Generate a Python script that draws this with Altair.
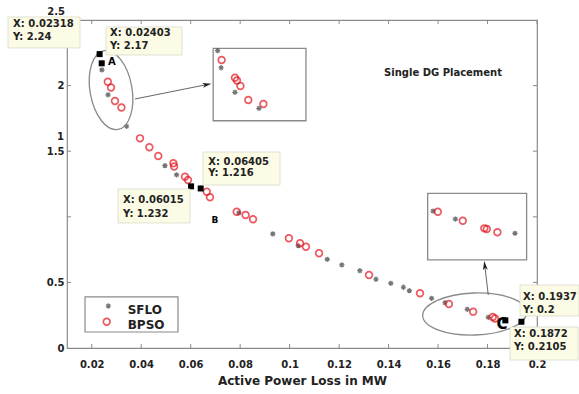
import altair as alt
import pandas as pd

FONT = "DejaVu Sans"

# ---- main series -------------------------------------------------------
SFLO_X = [0.02318, 0.02403, 0.0241, 0.0266, 0.0341, 0.0496, 0.0543, 0.06015, 0.06405,
          0.0795, 0.0932, 0.1035, 0.1152, 0.1211, 0.1284, 0.1349, 0.1409, 0.1460,
          0.1484, 0.1574, 0.1628, 0.1718, 0.1803, 0.1872, 0.1937]
SFLO_Y = [2.24, 2.17, 2.12, 1.93, 1.69, 1.39, 1.32, 1.232, 1.216,
          1.03, 0.87, 0.78, 0.676, 0.633, 0.589, 0.524, 0.493, 0.463,
          0.437, 0.379, 0.345, 0.295, 0.234, 0.2105, 0.2]

BPSO_X = [0.0265, 0.0278, 0.0294, 0.0320, 0.0395, 0.0433, 0.0469, 0.0530, 0.0533,
          0.0577, 0.0589, 0.0665, 0.0678, 0.0786, 0.0822, 0.0852, 0.0997, 0.1042,
          0.1066, 0.1119, 0.1321, 0.1527, 0.1644, 0.1742, 0.1821, 0.1830]
BPSO_Y = [2.03, 1.985, 1.883, 1.833, 1.598, 1.530, 1.463, 1.408, 1.383,
          1.306, 1.280, 1.191, 1.149, 1.039, 1.014, 0.981, 0.836, 0.798,
          0.772, 0.722, 0.556, 0.417, 0.335, 0.277, 0.236, 0.225]

# ---- data tips ---------------------------------------------------------
TIP_X = [0.02318, 0.02403, 0.06015, 0.06405, 0.1872, 0.1937]
TIP_Y = [2.24, 2.17, 1.232, 1.216, 0.2105, 0.2]
TIP_LINE1 = ["X: 0.02318", "X: 0.02403", "X: 0.06015", "X: 0.06405", "X: 0.1872", "X: 0.1937"]
TIP_LINE2 = ["Y: 2.24", "Y: 2.17", "Y: 1.232", "Y: 1.216", "Y: 0.2105", "Y: 0.2"]
BOX_X1 = [-0.01385, 0.02577, 0.03062, 0.06498, 0.1891, 0.19314]
BOX_X2 = [0.01526, 0.05649, 0.05972, 0.09611, 0.2166, 0.21698]
BOX_Y1 = [2.523, 2.447, 1.212, 1.494, 0.160, 0.480]
BOX_Y2 = [2.287, 2.233, 0.953, 1.242, -0.0915, 0.244]
TXT_X = [-0.01183, 0.02738, 0.03264, 0.0671, 0.1907, 0.19435]
TXT_Y1 = [2.470, 2.401, 1.128, 1.420, 0.107, 0.389]
TXT_Y2 = [2.370, 2.302, 1.021, 1.332, 0.0076, 0.290]

# ---- zoom insets (magnified copies) -----------------------------------
INSET_BOX_X1 = [0.0691, 0.1558]
INSET_BOX_X2 = [0.1066, 0.1958]
INSET_BOX_Y1 = [2.284, 1.179]
INSET_BOX_Y2 = [1.732, 0.671]
INSET_SFLO_X = [0.0709, 0.0723, 0.0779, 0.0876, 0.1580, 0.1670, 0.1911]
INSET_SFLO_Y = [2.266, 2.136, 1.949, 1.827, 1.044, 0.983, 0.874]
INSET_BPSO_X = [0.0725, 0.0779, 0.0787, 0.0801, 0.0833, 0.0894, 0.1599, 0.1700, 0.1787, 0.1797, 0.1840]
INSET_BPSO_Y = [2.195, 2.060, 2.039, 1.997, 1.890, 1.860, 1.039, 0.970, 0.912, 0.907, 0.882]

ELL_X = [0.0278, 0.1748]
ELL_Y = [1.966, 0.259]
ELL_SHAPE = ["M0,-1A0.525,1 0 1,1 0,1A0.525,1 0 1,1 0,-1Z",
             "M-1,0A1,0.404 0 1,1 1,0A1,0.404 0 1,1 -1,0Z"]
ELL_SIZE = [6400, 10816]
ELL_ANGLE = [350, 358]

ARROW_X1 = [0.0375, 0.1803]
ARROW_Y1 = [1.898, 0.404]
ARROW_X2 = [0.0666, 0.1789]
ARROW_Y2 = [2.008, 0.629]
ARROW_ANGLE = [349, 263]

LABELS = ["A", "B", "C"]
LABEL_X = [0.02658, 0.0698, 0.1859]
LABEL_Y = [2.178, 0.976, 0.183]
LABEL_SIZE = [10, 9, 15]
LABEL_ALIGN = ["left", "center", "center"]

XTICKS = [0.02, 0.04, 0.06, 0.08, 0.1, 0.12, 0.14, 0.16, 0.18, 0.2]
YTICKS = [0, 0.5, 1, 1.5, 2, 2.5]

W, H = 470, 328
XS = alt.Scale(domain=[0.01, 0.2], nice=False, zero=False)
YS = alt.Scale(domain=[0, 2.5], nice=False, zero=False)

XAX = alt.Axis(
    values=XTICKS, format="~g", labelFont=FONT, labelFontWeight="bold",
    labelFontSize=10, labelPadding=11, labelColor="#222", labelFlush=False,
    ticks=False, domain=False, grid=False,
    title="Active Power Loss in MW", titleFont=FONT, titleFontSize=12,
    titleFontWeight="bold", titleColor="#222", titlePadding=6)
YAX = alt.Axis(
    values=YTICKS, format="~g",
    labelExpr="datum.value == 1 || datum.value == 2.5 ? '' : datum.label",
    labelFont=FONT, labelFontWeight="bold", labelFontSize=10,
    labelPadding=3, labelColor="#222", labelFlush=False,
    ticks=False, domain=False, grid=False, title=None)


def X(f="x"):
    return alt.X(f"{f}:Q", scale=XS, axis=XAX)


def Y(f="y"):
    return alt.Y(f"{f}:Q", scale=YS, axis=YAX)


ASTER = "M-1,0L1,0M0,-1L0,1M-0.7,-0.7L0.7,0.7M-0.7,0.7L0.7,-0.7"
RED = "#E3141E"
GREY = "#3a3a3a"

sflo = pd.DataFrame({"x": SFLO_X, "y": SFLO_Y})
bpso = pd.DataFrame({"x": BPSO_X, "y": BPSO_Y})

sflo_layer = alt.Chart(sflo).mark_point(shape=ASTER, size=28, filled=False,
                                         stroke=GREY, strokeWidth=1.2).encode(x=X(), y=Y())
bpso_layer = alt.Chart(bpso).mark_point(shape="circle", size=45, filled=False,
                                        stroke=RED, strokeWidth=1.7).encode(x=X(), y=Y())

ell = pd.DataFrame({"x": ELL_X, "y": ELL_Y, "shape": ELL_SHAPE, "size": ELL_SIZE, "angle": ELL_ANGLE})
ell_layer = alt.Chart(ell).mark_point(filled=False, stroke="#8a8a8a", strokeWidth=1.3, opacity=1).encode(
    x=X(), y=Y(), shape=alt.Shape("shape:N", scale=None), size=alt.Size("size:Q", scale=None),
    angle=alt.Angle("angle:Q", scale=None))

arr = pd.DataFrame({"x": ARROW_X1, "y": ARROW_Y1, "x2": ARROW_X2, "y2": ARROW_Y2, "angle": ARROW_ANGLE})
arrow_lines = alt.Chart(arr).mark_rule(color="#666", strokeWidth=1).encode(
    x=X(), y=Y(), x2="x2:Q", y2="y2:Q")
arrow_heads = alt.Chart(arr).mark_point(shape="M1,0L-1,-0.55L-0.5,0L-1,0.55Z", size=81,
                                        filled=True, color="#222", opacity=1).encode(
    x=X("x2"), y=Y("y2"), angle=alt.Angle("angle:Q", scale=None))

inset_box = pd.DataFrame({"x": INSET_BOX_X1, "x2": INSET_BOX_X2, "y": INSET_BOX_Y1, "y2": INSET_BOX_Y2})
inset_rect = alt.Chart(inset_box).mark_rect(fill="white", stroke="#8a8a8a", strokeWidth=1.3).encode(
    x=X(), x2="x2:Q", y=Y(), y2="y2:Q")
inset_s = alt.Chart(pd.DataFrame({"x": INSET_SFLO_X, "y": INSET_SFLO_Y})).mark_point(
    shape=ASTER, size=28, filled=False, stroke=GREY, strokeWidth=1.2).encode(x=X(), y=Y())
inset_b = alt.Chart(pd.DataFrame({"x": INSET_BPSO_X, "y": INSET_BPSO_Y})).mark_point(
    shape="circle", size=45, filled=False, stroke=RED, strokeWidth=1.7).encode(x=X(), y=Y())

tips = pd.DataFrame({"x": TIP_X, "y": TIP_Y})
tip_sq = alt.Chart(tips).mark_point(shape="square", size=36, filled=True, color="black",
                                    opacity=1).encode(x=X(), y=Y())

lab = pd.DataFrame({"x": LABEL_X, "y": LABEL_Y, "t": LABELS})
lab_layers = [
    alt.Chart(lab.iloc[[i]]).mark_text(font=FONT, fontWeight="bold", fontSize=int(LABEL_SIZE[i]),
                                       align=LABEL_ALIGN[i], baseline="middle", color="black").encode(
        x=X(), y=Y(), text="t:N")
    for i in range(len(LABELS))
]

box = pd.DataFrame({"x": BOX_X1, "x2": BOX_X2, "y": BOX_Y1, "y2": BOX_Y2})
box_layer = alt.Chart(box).mark_rect(fill="#FBFBE6", stroke="#DADACB", strokeWidth=0.8).encode(
    x=X(), x2="x2:Q", y=Y(), y2="y2:Q")
txt = pd.DataFrame({"x": TXT_X + TXT_X, "y": TXT_Y1 + TXT_Y2, "t": TIP_LINE1 + TIP_LINE2})
txt_layer = alt.Chart(txt).mark_text(font=FONT, fontWeight="bold", fontSize=10, align="left",
                                     baseline="middle", color="#222").encode(x=X(), y=Y(), text="t:N")

# legend
LEG_BOX = {"x": [0.01728], "x2": [0.05487], "y": [0.389], "y2": [0.122]}
leg_rect = alt.Chart(pd.DataFrame(LEG_BOX)).mark_rect(fill="white", stroke="#8a8a8a", strokeWidth=1.2).encode(
    x=X(), x2="x2:Q", y=Y(), y2="y2:Q")
leg_s = alt.Chart(pd.DataFrame({"x": [0.0267], "y": [0.320]})).mark_point(
    shape=ASTER, size=28, filled=False, stroke=GREY, strokeWidth=1.2).encode(x=X(), y=Y())
leg_b = alt.Chart(pd.DataFrame({"x": [0.02605], "y": [0.200]})).mark_point(
    shape="circle", size=45, filled=False, stroke=RED, strokeWidth=1.7).encode(x=X(), y=Y())
leg_t = alt.Chart(pd.DataFrame({"x": [0.03454, 0.03454], "y": [0.290, 0.175], "t": ["SFLO", "BPSO"]})).mark_text(
    font=FONT, fontWeight="bold", fontSize=12, align="left", baseline="middle", color="#222").encode(
    x=X(), y=Y(), text="t:N")

title_t = alt.Chart(pd.DataFrame({"x": [0.162], "y": [2.096], "t": ["Single DG Placement"]})).mark_text(
    font=FONT, fontWeight="bold", fontSize=10, align="center", baseline="middle", color="#222").encode(
    x=X(), y=Y(), text="t:N")

extra_y = alt.Chart(pd.DataFrame({"x": [0.00879, 0.0092], "y": [1.608, 2.561], "t": ["1", "2.5"]})).mark_text(
    font=FONT, fontWeight="bold", fontSize=10, align="right", baseline="middle", color="#222").encode(
    x=X(), y=Y(), text="t:N")

# inward ticks on all four sides
xt = pd.DataFrame({"x": XTICKS})
yt = pd.DataFrame({"y": YTICKS[1:-1]})
TC = "#8a8a8a"
tick_b = alt.Chart(xt).mark_rule(color=TC).encode(x=X(), y=alt.value(H), y2=alt.value(H - 4))
tick_t = alt.Chart(xt).mark_rule(color=TC).encode(x=X(), y=alt.value(0), y2=alt.value(4))
tick_l = alt.Chart(yt).mark_rule(color=TC).encode(y=Y(), x=alt.value(0), x2=alt.value(4))
tick_r = alt.Chart(yt).mark_rule(color=TC).encode(y=Y(), x=alt.value(W), x2=alt.value(W - 4))

chart = alt.layer(
    sflo_layer, tick_b, tick_t, tick_l, tick_r,
    ell_layer, arrow_lines, arrow_heads,
    inset_rect, inset_s, inset_b,
    bpso_layer, tip_sq, *lab_layers,
    box_layer, txt_layer,
    leg_rect, leg_s, leg_b, leg_t,
    title_t, extra_y,
).properties(
    width=W, height=H,
    autosize=alt.AutoSizeParams(type="none"),
    padding={"left": 67, "top": 20, "right": 42, "bottom": 46},
    background="white",
).configure_view(stroke="#8a8a8a", strokeWidth=1.2)

chart.save("out.html", embed_options={"renderer": "svg", "actions": False})
